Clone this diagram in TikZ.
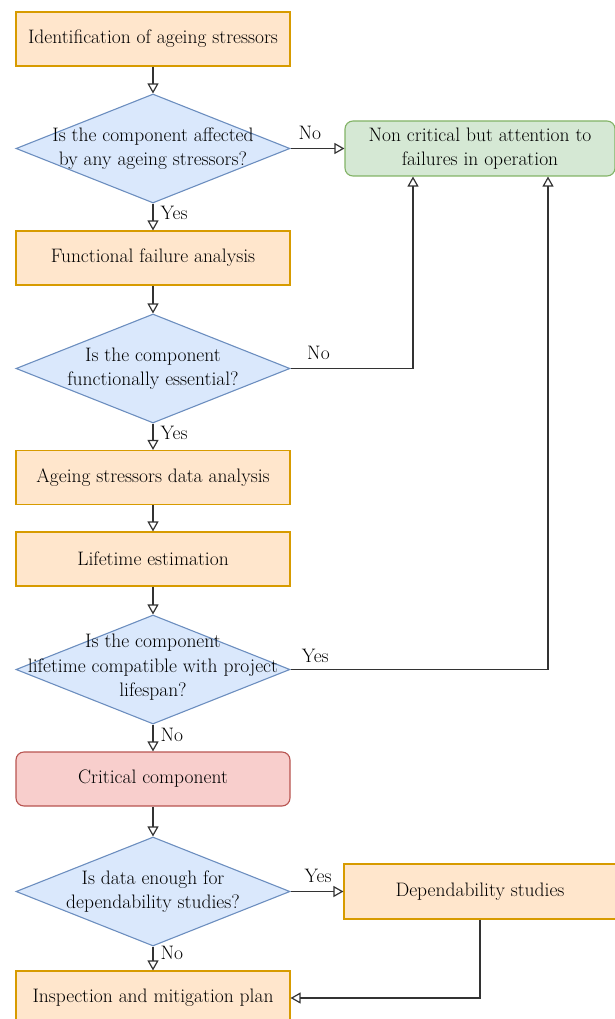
\documentclass[tikz,border=0pt]{standalone}
\usepackage{fontspec}
\usetikzlibrary{shapes.geometric,arrows.meta,positioning}
\definecolor{procfill}{HTML}{FFE6CC}
\definecolor{procline}{HTML}{D79B00}
\definecolor{decfill}{HTML}{DAE8FC}
\definecolor{decline}{HTML}{6C8EBF}
\definecolor{okfill}{HTML}{D5E8D4}
\definecolor{okline}{HTML}{82B366}
\definecolor{critfill}{HTML}{F8CECC}
\definecolor{critline}{HTML}{B85450}
\definecolor{edgecol}{HTML}{333333}
\tikzstyle{process} = [draw=procline,fill=procfill,line width=1.1pt,minimum width=274pt,minimum height=54pt,inner sep=0pt,align=center]
\tikzstyle{decision} = [diamond,draw=decline,fill=decfill,line width=1.1pt,minimum width=274pt,minimum height=109pt,inner sep=0pt]
\tikzstyle{outcome} = [process,rounded corners=8pt]
\tikzstyle{txt} = [align=center,inner sep=0pt,text=black]
\tikzstyle{lbl} = [inner sep=1pt,text=black]
\tikzstyle{edge} = [draw,line width=1.2pt,edgecol,-{Triangle[open,length=10pt,width=11pt]}]

\begin{document}
\begin{tikzpicture}[x=1pt,y=1pt,on grid,font=\fontsize{19.5}{24.5}\selectfont]
   \useasboundingbox (0,0) rectangle (615,-1019);
   \node[process] (ident) at (153,-39) {Identification of ageing stressors};
   \node[decision,label={[txt]center:Is the component affected\\by any ageing stressors?}] (affected) [below=109.5pt of ident] {};
   \node[outcome,draw=okline,fill=okfill,minimum width=270pt,minimum height=55pt] (noncrit) [right=327pt of affected] {Non critical but attention to\\failures in operation};
   \node[process] (funcfail) [below=109.5pt of affected] {Functional failure analysis};
   \node[decision,label={[txt]center:Is the component\\functionally essential?}] (essential) [below=110.5pt of funcfail] {};
   \node[process] (datana) [below=109pt of essential] {Ageing stressors data analysis};
   \node[process] (lifetime) [below=81.5pt of datana] {Lifetime estimation};
   \node[decision,label={[txt,yshift=2pt]center:Is the component\\lifetime compatible with project\\lifespan?}] (compat) [below=110.5pt of lifetime] {};
   \node[outcome,draw=critline,fill=critfill] (critical) [below=109.5pt of compat] {Critical component};
   \node[decision,label={[txt]center:Is data enough for\\dependability studies?}] (enough) [below=112.5pt of critical] {};
   \node[process,minimum width=272pt,minimum height=55pt] (depend) [right=327pt of enough] {Dependability studies};
   \node[process] (inspect) [below=106.5pt of enough] {Inspection and mitigation plan};

   \path[edge] (ident) -- (affected);
   \path[edge] (affected) -- node[lbl,pos=0.36,above=7pt] {No} (noncrit);
   \path[edge] (affected) -- node[lbl,pos=0.35,right=6pt] {Yes} (funcfail);
   \path[edge] (funcfail) -- (essential);
   \path[edge] (essential) -| node[lbl,pos=0.114,above=7pt] {No} ([xshift=-67pt]noncrit.south);
   \path[edge] (essential) -- node[lbl,pos=0.35,right=6pt] {Yes} (datana);
   \path[edge] (datana) -- (lifetime);
   \path[edge] (lifetime) -- (compat);
   \path[edge] (compat) -| node[lbl,pos=0.048,above=5pt] {Yes} ([xshift=68pt]noncrit.south);
   \path[edge] (compat) -- node[lbl,pos=0.38,right=6pt] {No} (critical);
   \path[edge] (critical) -- (enough);
   \path[edge] (enough) -- node[lbl,pos=0.52,above=7pt] {Yes} (depend);
   \path[edge] (enough) -- node[lbl,pos=0.25,right=6pt] {No} (inspect);
   \path[edge] (depend) |- (inspect);
\end{tikzpicture}
\end{document}
